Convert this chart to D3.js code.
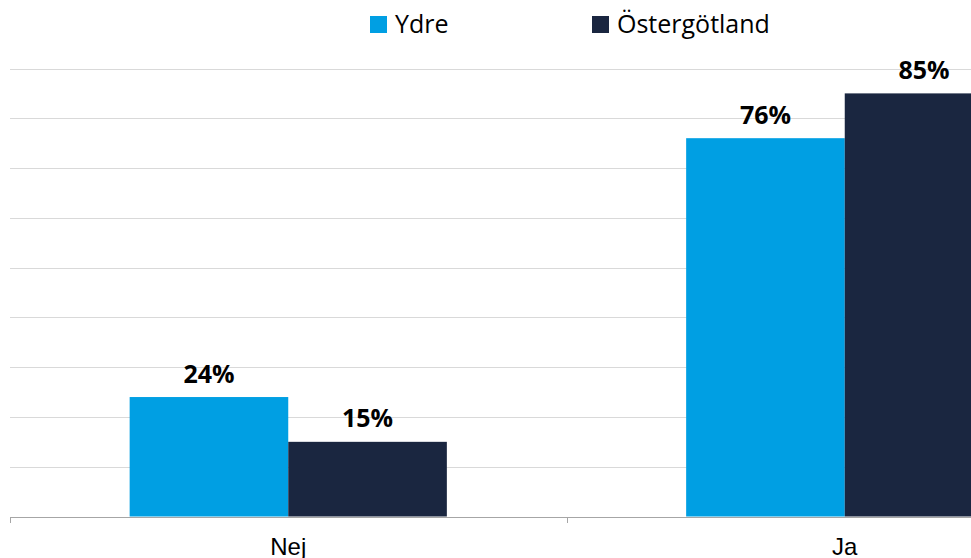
<!DOCTYPE html>
<html>
<head>
<meta charset="utf-8">
<script src="https://cdn.jsdelivr.net/npm/d3@7"></script>
<style>
  body { margin: 0; background: #fff; }
  svg { display: block; }
</style>
</head>
<body>
<svg id="chart" width="971" height="558"></svg>
<script>
// data
const categories = ["Nej", "Ja"];
const seriesNames = ["Ydre", "Östergötland"];
const ydre = [24, 76];
const ostergotland = [15, 85];
const gridTicks = [10, 20, 30, 40, 50, 60, 70, 80, 90];

const colors = ["#009fe3", "#1a2640"];
const values = [ydre, ostergotland];

let svg = d3.select("#chart");

// chart is cut off on the right, so the plot area runs past the window
let x = d3.scaleBand()
    .domain(categories)
    .range([10, 1123])
    .paddingInner(0)
    .paddingOuter(0);

let y = d3.scaleLinear()
    .domain([0, 90])
    .range([516.5, 68.5]);

// bars take up 317 of the 556.5 wide band (gap width ~151%)
let groupWidth = x.bandwidth() * 0.57;
let xs = d3.scaleBand()
    .domain(seriesNames)
    .range([(x.bandwidth() - groupWidth) / 2, (x.bandwidth() + groupWidth) / 2]);

// gridlines
svg.append("g")
    .selectAll("line")
    .data(gridTicks)
    .join("line")
    .attr("x1", 10)
    .attr("x2", 971)
    .attr("y1", d => Math.round(y(d)) + 0.5)
    .attr("y2", d => Math.round(y(d)) + 0.5)
    .attr("stroke", "#d9d9d9")
    .attr("stroke-width", 1);

// bars
seriesNames.forEach(function (name, si) {
    let g = svg.append("g");
    g.selectAll("rect")
        .data(categories)
        .join("rect")
        .attr("x", d => x(d) + xs(name))
        .attr("width", xs.bandwidth())
        .attr("y", (d, i) => y(values[si][i]))
        .attr("height", (d, i) => y(0) - y(values[si][i]))
        .attr("fill", colors[si]);

    g.selectAll("text")
        .data(categories)
        .join("text")
        .attr("x", d => x(d) + xs(name) + xs.bandwidth() / 2)
        .attr("y", (d, i) => y(values[si][i]) - 14.5)
        .attr("text-anchor", "middle")
        .style("font-family", "'Open Sans', sans-serif")
        .style("font-weight", "bold")
        .style("font-size", "25px")
        .attr("fill", "#000")
        .text((d, i) => values[si][i] + "%");
});

// x axis
let xAxis = d3.axisBottom(x).tickSize(0).tickPadding(0);
let axisG = svg.append("g")
    .attr("transform", "translate(0," + (Math.round(y(0)) + 0.5) + ")")
    .call(xAxis);
axisG.select(".domain").attr("stroke", "#a6a6a6").attr("d", "M10,0H1123");
axisG.selectAll("text")
    .style("font-family", "'Liberation Sans', Arial, sans-serif")
    .style("font-size", "24px")
    .attr("fill", "#000")
    .attr("y", 37)
    .attr("dy", null);

// boundary tick marks between categories
svg.append("g")
    .selectAll("line")
    .data(categories.concat(["end"]))
    .join("line")
    .attr("x1", (d, i) => Math.round(10 + i * x.bandwidth()) + 0.5)
    .attr("x2", (d, i) => Math.round(10 + i * x.bandwidth()) + 0.5)
    .attr("y1", Math.round(y(0)))
    .attr("y2", Math.round(y(0)) + 6)
    .attr("stroke", "#a6a6a6");

// legend
let legendX = [370, 592];
let legend = svg.append("g");
seriesNames.forEach(function (name, i) {
    legend.append("rect")
        .attr("x", legendX[i])
        .attr("y", 16)
        .attr("width", 17)
        .attr("height", 17)
        .attr("fill", colors[i]);
    legend.append("text")
        .attr("x", legendX[i] + 25)
        .attr("y", 33)
        .style("font-family", "'Open Sans', sans-serif")
        .style("font-size", "25px")
        .attr("fill", "#000")
        .text(name);
});
</script>
</body>
</html>
